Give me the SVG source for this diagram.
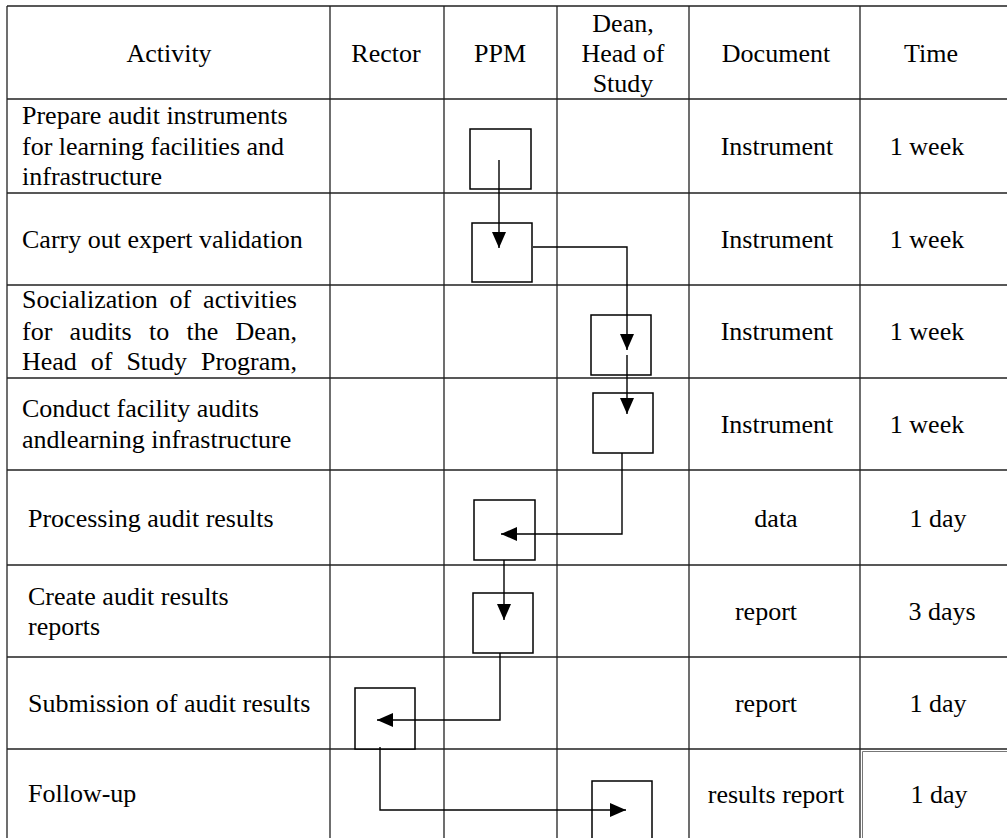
<svg xmlns="http://www.w3.org/2000/svg" width="1007" height="838" viewBox="0 0 1007 838">
<style>
  .grid { stroke: #222; stroke-width: 1.3; fill: none; }
  .grid2 { stroke: #777; stroke-width: 1; fill: none; }
  .box { stroke: #000; stroke-width: 1.5; fill: #fff; }
  .conn { stroke: #000; stroke-width: 1.4; fill: none; }
  text { font-family: "Liberation Serif", "Times New Roman", serif; font-size: 26px; fill: #000; }
  .c { text-anchor: middle; }
</style>
<defs>
  <marker id="ah" markerUnits="userSpaceOnUse" markerWidth="16" markerHeight="14" refX="16" refY="7" orient="auto">
    <path d="M0,0 L16,7 L0,14 z" fill="#000"/>
  </marker>
</defs>
<rect width="1007" height="838" fill="#fff"/>
<g id="grid">
  <path class="grid" d="M7,6 H1007 M7,99 H1007 M7,193 H1007 M7,285 H1007 M7,378 H1007 M7,470 H1007 M7,565 H1007 M7,657 H1007 M7,749 H1007"/>
  <path class="grid" d="M7,6 V838 M330,6 V838 M444,6 V838 M557,6 V838 M689,6 V838 M860,6 V838"/>
  <path class="grid2" d="M862.5,751.5 V838 M862.5,751.5 H1007"/>
</g>
<g id="header">
  <text class="c" x="169" y="62">Activity</text>
  <text class="c" x="386" y="62">Rector</text>
  <text class="c" x="500" y="62">PPM</text>
  <text class="c" x="623" y="32">Dean,</text>
  <text class="c" x="623" y="62">Head of</text>
  <text class="c" x="623" y="92">Study</text>
  <text class="c" x="776" y="62">Document</text>
  <text class="c" x="931" y="62">Time</text>
</g>
<g id="row1">
  <text x="22" y="124">Prepare audit instruments</text>
  <text x="22" y="155">for learning facilities and</text>
  <text x="22" y="185">infrastructure</text>
  <text class="c" x="777" y="155">Instrument</text>
  <text class="c" x="927" y="155">1 week</text>
</g>
<g id="row2">
  <text x="22" y="248">Carry out expert validation</text>
  <text class="c" x="777" y="248">Instrument</text>
  <text class="c" x="927" y="248">1 week</text>
</g>
<g id="row3">
  <text y="308"><tspan x="22">Socialization</tspan><tspan x="169.6">of</tspan><tspan x="203.1">activities</tspan></text>
  <text y="340"><tspan x="22">for</tspan><tspan x="69.6">audits</tspan><tspan x="149">to</tspan><tspan x="186.5">the</tspan><tspan x="235.6">Dean,</tspan></text>
  <text y="370"><tspan x="22">Head</tspan><tspan x="90.8">of</tspan><tspan x="126.4">Study</tspan><tspan x="201">Program,</tspan></text>
  <text class="c" x="777" y="340">Instrument</text>
  <text class="c" x="927" y="340">1 week</text>
</g>
<g id="row4">
  <text x="22" y="417">Conduct facility audits</text>
  <text x="22" y="448">andlearning infrastructure</text>
  <text class="c" x="777" y="433">Instrument</text>
  <text class="c" x="927" y="433">1 week</text>
</g>
<g id="row5">
  <text x="28" y="527">Processing audit results</text>
  <text class="c" x="776" y="527">data</text>
  <text class="c" x="938" y="527">1 day</text>
</g>
<g id="row6">
  <text x="28" y="605">Create audit results</text>
  <text x="28" y="635">reports</text>
  <text class="c" x="766" y="620">report</text>
  <text class="c" x="942" y="620">3 days</text>
</g>
<g id="row7">
  <text x="28" y="712">Submission of audit results</text>
  <text class="c" x="766" y="712">report</text>
  <text class="c" x="938" y="712">1 day</text>
</g>
<g id="row8">
  <text x="28" y="802">Follow-up</text>
  <text class="c" x="776" y="803">results report</text>
  <text class="c" x="939" y="803">1 day</text>
</g>
<g id="node1"><rect class="box" x="470" y="129" width="61" height="60"/></g>
<g id="node2"><rect class="box" x="472" y="223" width="60" height="59"/></g>
<g id="node3"><rect class="box" x="591" y="315" width="60" height="60"/></g>
<g id="node4"><rect class="box" x="593" y="393" width="60" height="60"/></g>
<g id="node5"><rect class="box" x="474" y="500" width="61" height="60"/></g>
<g id="node6"><rect class="box" x="473" y="593" width="60" height="60"/></g>
<g id="node7"><rect class="box" x="355" y="688" width="60" height="61"/></g>
<g id="node8"><rect class="box" x="592" y="781" width="60" height="62"/></g>
<g id="connectors">
  <path class="conn" d="M499,160 V248" marker-end="url(#ah)"/>
  <path class="conn" d="M533,247 H627 V350" marker-end="url(#ah)"/>
  <path class="conn" d="M627,355 V414" marker-end="url(#ah)"/>
  <path class="conn" d="M622,453 V534 H501" marker-end="url(#ah)"/>
  <path class="conn" d="M504,560 V620" marker-end="url(#ah)"/>
  <path class="conn" d="M500,653 V720 H377" marker-end="url(#ah)"/>
  <path class="conn" d="M380,747 V810 H626" marker-end="url(#ah)"/>
</g>
</svg>
